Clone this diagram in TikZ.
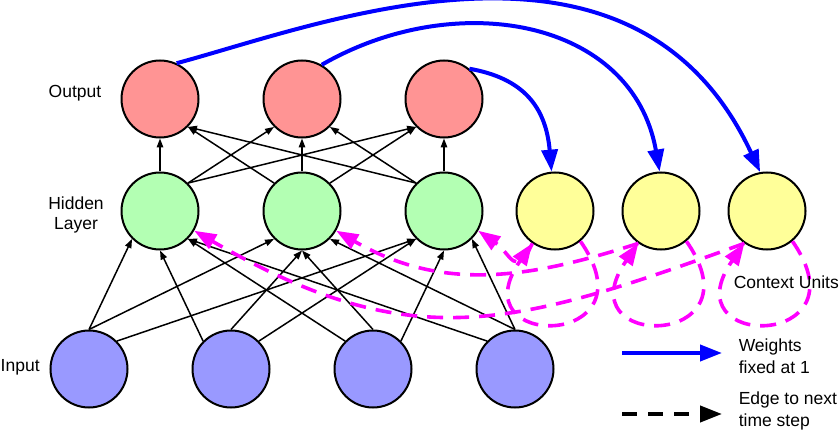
\documentclass[tikz,border=0pt]{standalone}
\usepackage{fontspec}
\setmainfont{Liberation Sans}
\usetikzlibrary{arrows.meta}
\definecolor{outred}{RGB}{255,148,148}
\definecolor{hidgreen}{RGB}{179,255,179}
\definecolor{ctxyellow}{RGB}{255,255,153}
\definecolor{inblue}{RGB}{153,153,255}
\definecolor{nextpink}{RGB}{255,0,255}
\definecolor{copyblue}{RGB}{0,0,255}
\begin{document}
\begin{tikzpicture}[x=1pt,y=1pt,->,>={Triangle[length=9pt,width=6.5pt]},line width=1.5pt,
  font=\fontsize{17.5}{21}\selectfont,
  neuron/.style={draw,circle,line width=2pt,minimum size=77pt,inner sep=0pt},
  wire/.style={draw},
  tag/.style={inner sep=0pt},
  copyarc/.style={-{Triangle[length=22pt,width=16pt]},copyblue,line width=4pt},
  nextstep/.style={-{Triangle[length=22pt,width=16pt]},nextpink,line width=3.6pt,dash pattern=on 16pt off 10pt}]
\useasboundingbox (0,0) rectangle (840,429);
\node[neuron,fill=outred] (o1) at (160,330) {};
\node[neuron,fill=outred] (o2) at (302,330) {};
\node[neuron,fill=outred] (o3) at (444,330) {};
\node[neuron,fill=hidgreen] (h1) at (160,218) {};
\node[neuron,fill=hidgreen] (h2) at (302,218) {};
\node[neuron,fill=hidgreen] (h3) at (444,218) {};
\node[neuron,fill=ctxyellow] (c1) at (555,218) {};
\node[neuron,fill=ctxyellow] (c2) at (661,218) {};
\node[neuron,fill=ctxyellow] (c3) at (767,218) {};
\node[neuron,fill=inblue] (i1) at (89,60) {};
\node[neuron,fill=inblue] (i2) at (231,60) {};
\node[neuron,fill=inblue] (i3) at (373,60) {};
\node[neuron,fill=inblue] (i4) at (515,60) {};
\path (i1.north) edge[wire] (h1.south west) edge[wire] (h2.south west);
\path (i1.north east) edge[wire] (h3.south west);
\path (i2.north west) edge[wire] (h1.south);
\path (i2.north) edge[wire] (h2.south);
\path (i2.north east) edge[wire] (h3.south west);
\path (i3.north west) edge[wire] (h1.south east);
\path (i3.north) edge[wire] (h2.south);
\path (i3.north east) edge[wire] (h3.south);
\path (i4.north west) edge[wire] (h1.south east);
\path (i4.north) edge[wire] (h2.south east) edge[wire] (h3.south east);
\path (h1.north) edge[wire] (o1.south);
\path (h1.north east) edge[wire] (o2.south west) edge[wire] (o3.south west);
\path (h2.north west) edge[wire] (o1.south east);
\path (h2.north) edge[wire] (o2.south);
\path (h2.north east) edge[wire] (o3.south west);
\path (h3.north west) edge[wire] (o1.south east) edge[wire] (o2.south east);
\path (h3.north) edge[wire] (o3.south);
\draw[nextstep] (c1.-50) .. controls +(-55:132) and +(-125:132) .. (c1.-125);
\draw[nextstep] (c2.-50) .. controls +(-55:132) and +(-125:132) .. (c2.-125);
\draw[nextstep] (c3.-50) .. controls +(-55:132) and +(-125:132) .. (c3.-125);
\draw[nextstep] (c1.-125) .. controls +(-115:40) and +(-35:40) .. (h3.-30);
\draw[nextstep] (c2.-125) .. controls +(-162:120) and +(-30:120) .. (h2.-30);
\draw[nextstep] (c3.-125) .. controls +(-160:250) and +(-30:250) .. (h1.-30);
\draw[copyarc] (o3.50) .. controls +(-10:55) and +(95:65) .. (c1.95);
\draw[copyarc] (o2.60) .. controls +(30:155) and +(100:155) .. (c2.92);
\draw[copyarc] (o1.65) .. controls +(15:150) and +(115:300) .. (c3.100);
\node[tag] (outlbl) at (75,335.5) {Output};
\node[tag,align=center,font=\fontsize{17.5}{19.5}\selectfont] (hidlbl) at (76,214) {Hidden\\Layer};
\node[tag,anchor=west] (inlbl) at (0,62) {Input};
\node[tag,anchor=west] (ctxlbl) at (733,147) {Context Units};
\coordinate (wl) at (622,76);
\coordinate (wr) at (722,76);
\coordinate (el) at (622,15);
\coordinate (er) at (722,15);
\draw[copyarc] (wl) -- (wr);
\draw[nextstep,black,line width=4pt,dash pattern=on 15pt off 11pt] (el) -- (er);
\node[tag,anchor=west,align=left,font=\fontsize{17.5}{21.5}\selectfont] (wlbl) at (738,73) {Weights\\fixed at 1};
\node[tag,anchor=west,align=left,font=\fontsize{17.5}{21.5}\selectfont] (elbl) at (738,18) {Edge to next\\time step};
\end{tikzpicture}
\end{document}
